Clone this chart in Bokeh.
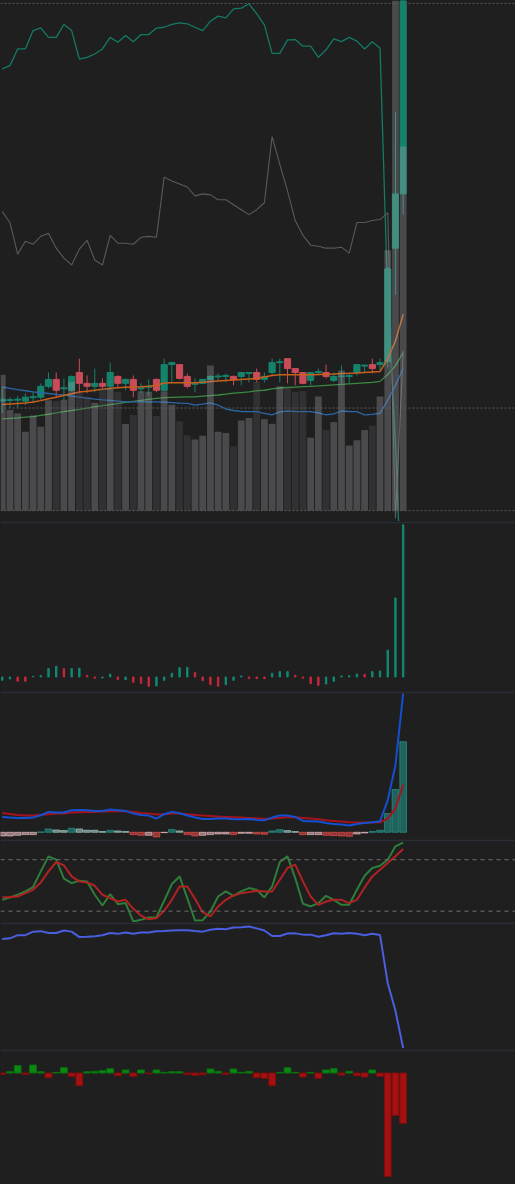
from bokeh.plotting import figure
from bokeh.models import ColumnDataSource, Range1d, Span
from bokeh.layouts import column
from bokeh.embed import file_html
from bokeh.resources import INLINE

# ---------------- data ----------------
bar_index = list(range(53))

open_ = [1.94,1.945,1.95,1.94,1.975,1.98,2.09,2.16,2.065,2.05, 2.23,2.12,2.09,2.12,2.09,2.19,2.12,2.16,2.065,2.08,
         2.16,2.05,2.31,2.31,2.19,2.11,2.12,2.16,2.185,2.19, 2.19,2.19,2.22,2.23,2.16,2.23,2.33,2.37,2.27,2.23,
         2.15,2.23,2.23,2.15,2.19,2.19,2.23,2.295,2.31,2.31, 2.34,3.49,4.04]
high = [2.08,1.98,1.99,2.02,2.03,2.12,2.23,2.23,2.17,2.20, 2.37,2.20,2.27,2.17,2.33,2.20,2.17,2.20,2.12,2.16,
        2.17,2.37,2.34,2.31,2.22,2.17,2.165,2.20,2.22,2.22, 2.20,2.23,2.23,2.27,2.23,2.37,2.37,2.37,2.27,2.23,
        2.235,2.27,2.31,2.23,2.30,2.22,2.31,2.31,2.37,2.37, 3.30,4.87,8.00]
low = [1.82,1.87,1.87,1.90,1.92,1.95,2.07,1.97,1.95,2.04, 2.02,2.02,2.03,2.07,2.05,2.08,2.05,1.98,2.02,2.00,
       2.03,2.045,2.12,2.16,2.07,2.03,2.12,2.15,2.15,2.13, 2.10,2.10,2.13,2.13,2.13,2.20,2.13,2.12,2.10,2.11,
       2.10,2.20,2.17,2.13,2.12,2.12,2.20,2.23,2.22,2.25, 2.28,3.02,3.83]
close = [1.96,1.955,1.96,1.98,1.985,2.09,2.16,2.05,2.075,2.19, 2.12,2.09,2.12,2.09,2.23,2.12,2.16,2.05,2.075,2.09,
         2.05,2.31,2.33,2.17,2.09,2.12,2.16,2.19,2.195,2.20, 2.16,2.23,2.23,2.16,2.19,2.33,2.34,2.27,2.23,2.12,
         2.23,2.24,2.19,2.19,2.195,2.20,2.31,2.305,2.27,2.33, 3.28,4.04,7.50]
volume_k = [1377,1020,987,800,963,850,1120,1110,1125,1303, 1200,1153,1093,1240,1237,1203,877,970,1210,1205,
            960,1210,1073,903,763,720,760,1470,800,787, 650,913,940,1303,927,880,1260,1250,1203,1210,
            740,1157,817,897,1420,660,713,817,860,1157, 2640,9000,3690]
ma_fast = [1.905,1.91,1.915,1.92,1.93,1.945,1.965,1.98,2.00,2.015, 2.033,2.04,2.05,2.06,2.07,2.075,2.08,2.083,2.085,2.09,
           2.10,2.123,2.125,2.125,2.125,2.125,2.13,2.14,2.145,2.15, 2.155,2.16,2.165,2.17,2.185,2.20,2.207,2.207,2.207,2.207,
           2.207,2.21,2.213,2.215,2.22,2.222,2.225,2.23,2.235,2.24, 2.37,2.55,2.82]
ma_slow = [1.76,1.765,1.77,1.777,1.783,1.795,1.807,1.82,1.833,1.845, 1.857,1.87,1.883,1.894,1.905,1.916,1.927,1.937,1.947,1.957,
           1.967,1.975,1.978,1.98,1.982,1.983,1.99,1.996,2.002,2.01, 2.02,2.027,2.034,2.045,2.05,2.065,2.073,2.078,2.082,2.086,
           2.09,2.094,2.10,2.105,2.11,2.115,2.12,2.125,2.13,2.14, 2.21,2.30,2.43]
ma_blue = [2.083,2.07,2.057,2.045,2.033,2.025,2.017,2.008,2.00,1.99, 1.98,1.97,1.96,1.953,1.947,1.94,1.933,1.933,1.933,1.933,
           1.933,1.93,1.925,1.92,1.917,1.90,1.91,1.923,1.90,1.86, 1.845,1.835,1.833,1.833,1.815,1.80,1.83,1.84,1.835,1.833,
           1.833,1.82,1.80,1.81,1.84,1.835,1.833,1.80,1.805,1.817, 1.95,2.10,2.27]
osc_line = [33.25,33.44,34.40,34.40,35.46,35.61,35.07,35.07,35.81,35.46, 33.82,33.92,34.11,34.40,35.07,34.79,35.17,34.82,35.23,35.23,
            35.60,35.65,35.81,35.90,35.85,35.65,35.46,36.00,36.29,36.19, 36.71,36.75,37.00,36.43,35.79,34.15,34.15,34.92,34.94,34.56,
            34.56,33.92,34.35,34.98,34.82,35.07,34.85,34.40,34.81,34.44, 20.0,11.7,0.5]
gray_line = [31.4,30.3,27.1,28.4,28.1,28.9,29.2,27.7,26.7,26.0, 27.6,28.5,26.5,26.0,29.0,28.2,28.2,28.1,28.8,28.9,
             28.8,34.9,34.5,34.2,33.9,33.0,33.2,33.1,32.6,32.6, 32.1,31.6,31.1,31.6,32.3,39.0,36.2,33.5,30.5,29.0,
             28.0,27.9,27.7,27.7,27.8,27.2,30.3,30.3,30.5,30.6, 31.3,0.3,17.3]
mom_vals = [-1.0,-0.6,-1.3,-1.3,0.2,0.4,2.5,3.2,2.5,2.5, 2.6,0.5,-0.4,-0.3,0.8,-0.8,-0.8,-1.6,-1.9,-2.8,
            -2.7,-1.0,1.1,2.8,2.9,1.3,-1.1,-2.3,-2.8,-2.3, -1.0,0.3,-0.5,-0.5,-0.5,1.1,1.6,1.6,0.5,-0.4,
            -2.0,-2.5,-2.1,-1.3,0.3,0.4,0.9,0.8,1.6,1.8, 8.0,23.6,45.5]
mom_up = [1,1,0,0,1,1,1,1,0,1, 1,0,0,1,1,0,1,0,0,0, 1,1,1,1,1,0,0,0,0,1, 1,1,0,0,0,1,1,1,0,0, 0,0,1,1,1,1,1,0,1,1, 1,1,1]
macd = [0.46,0.44,0.43,0.43,0.44,0.51,0.61,0.59,0.59,0.66, 0.67,0.66,0.64,0.64,0.68,0.66,0.64,0.56,0.52,0.50,
        0.41,0.54,0.61,0.57,0.50,0.44,0.40,0.40,0.41,0.41, 0.39,0.39,0.40,0.37,0.36,0.44,0.50,0.50,0.46,0.34,
        0.33,0.32,0.28,0.25,0.23,0.20,0.25,0.28,0.30,0.33, 0.96,2.01,4.16]
signal = [0.58,0.55,0.52,0.50,0.50,0.52,0.54,0.56,0.56,0.59, 0.60,0.61,0.61,0.62,0.63,0.64,0.63,0.61,0.58,0.56,
          0.53,0.54,0.56,0.56,0.54,0.52,0.50,0.49,0.47,0.46, 0.45,0.44,0.43,0.42,0.40,0.41,0.43,0.45,0.45,0.43,
          0.41,0.39,0.36,0.34,0.32,0.30,0.29,0.29,0.29,0.30, 0.41,0.71,1.43]
hist = [-0.11,-0.11,-0.09,-0.07,-0.07,0.01,0.10,0.07,0.05,0.12, 0.10,0.06,0.06,0.02,0.06,0.04,0.02,-0.07,-0.09,-0.09,
        -0.14,-0.01,0.08,0.04,-0.07,-0.11,-0.09,-0.07,-0.05,-0.05, -0.07,-0.03,-0.03,-0.05,-0.06,0.04,0.08,0.05,0.02,-0.07,
        -0.07,-0.07,-0.09,-0.10,-0.11,-0.12,-0.05,-0.02,0.02,0.06, 0.56,1.28,2.71]
stoch_k = [33.2,36.0,39.1,43.0,48.1,66.4,83.9,80.0,57.8,52.7, 55.5,54.7,39.1,26.6,39.9,28.2,29.4,7.9,9.9,12.6,
           13.0,32.1,51.6,60.5,35.2,9.1,9.5,19.6,37.1,43.0, 37.9,43.0,46.9,44.9,36.0,48.8,77.3,83.9,58.6,28.6,
           25.5,29.4,37.9,33.2,27.4,27.4,44.9,61.3,70.3,73.0, 80.0,95.6,100.0]
stoch_d = [36.0,36.4,37.1,41.0,44.9,53.5,66.4,77.3,73.4,60.5, 54.7,53.5,49.6,39.1,35.2,31.3,33.2,22.7,14.9,10.6,
           11.8,20.4,33.2,48.8,48.8,34.4,18.8,13.8,25.5,33.2, 38.3,41.0,42.2,43.8,43.0,43.0,56.6,70.3,74.2,54.7,
           37.1,27.4,31.3,33.2,33.2,29.4,33.2,47.7,60.5,68.3, 76.1,83.9,92.5]
flow = [-0.4,0.4,2.2,-0.4,2.4,0.4,-1.4,0.2,1.6,-1.0, -3.8,0.4,0.5,0.7,1.3,-0.8,0.9,-1.0,0.9,-0.2,
        0.9,0.2,0.4,0.4,-0.4,-0.7,-0.5,1.2,0.5,-0.4, 1.2,0.2,0.5,-1.4,-1.6,-3.8,0.2,1.6,0.2,-1.2,
        0.2,-1.6,0.9,1.3,-0.6,0.5,-0.8,-1.2,0.9,-1.0, -31.0,-12.7,-15.1]
stoch_levels = [80, 20]
price_level = 1.87

# ---------------- style ----------------
BG = "#1f1f1f"
SEP = "#2a2d36"
UP = "#15836b"
DOWN = "#c94c58"
W = 515
xr = Range1d(-0.226, 66.57)


def make_fig(h, yr, top):
    p = figure(width=W, height=h, x_range=xr, y_range=yr, output_backend="svg",
               toolbar_location=None, x_axis_location=None, y_axis_location=None,
               min_border_left=0, min_border_right=0, min_border_bottom=0, min_border_top=top,
               background_fill_color=BG, border_fill_color=SEP if top else BG,
               outline_line_color=None, styles={"background-color": BG})
    p.xgrid.visible = False
    p.ygrid.visible = False
    return p

# ---------------- main pane ----------------
main = make_fig(521, Range1d(0.72, 6.00), 0)
main.extra_y_ranges = {"vol": Range1d(-110, 5170), "ind": Range1d(7.2, 37.19), "aux": Range1d(0, 52.8)}

is_up = [c >= o for o, c in zip(open_, close)]
csrc = ColumnDataSource(dict(
    x=bar_index, high=high, low=low,
    top=[max(o, c) for o, c in zip(open_, close)],
    bottom=[min(o, c) for o, c in zip(open_, close)],
    color=[UP if u else DOWN for u in is_up],
    vol=volume_k,
    vcolor=["#a5a5ad" if u else "#57575e" for u in is_up],
    fast=ma_fast, slow=ma_slow, blue=ma_blue, osc=osc_line, gray=gray_line,
))

main.line("x", "osc", source=csrc, y_range_name="ind", line_color="#137a66", line_width=1.3)
main.line("x", "gray", source=csrc, y_range_name="aux", line_color="#5a5a5a", line_width=1.1)
main.segment("x", "high", "x", "low", source=csrc, line_color="color", line_width=1)
main.vbar(x="x", width=0.8, top="top", bottom="bottom", source=csrc, fill_color="color", line_color="color")
main.line("x", "slow", source=csrc, line_color="#3a8a42", line_width=1.3)
main.line("x", "blue", source=csrc, line_color="#2a67a8", line_width=1.3)
main.line("x", "fast", source=csrc, line_color="#c8601c", line_width=1.5)
main.vbar(x="x", width=0.88, top="vol", bottom=0, source=csrc, y_range_name="vol",
          fill_color="vcolor", fill_alpha=0.32, line_color=None)
for loc, rng in [(0, "vol"), (5140, "vol"), (price_level, "default")]:
    main.add_layout(Span(location=loc, dimension="width", y_range_name=rng,
                         line_color="#5c5c5c", line_dash="2 2", line_width=1))

# ---------------- pane 2 ----------------
p2 = make_fig(170, Range1d(-4.34, 45.85), 2)
p2.vbar(x=bar_index, width=0.18, top=mom_vals, bottom=0,
        color=["#108a74" if u else "#c8283a" for u in mom_up])

# ---------------- pane 3 (MACD) ----------------
p3 = make_fig(148, Range1d(-0.216, 4.154), 2)
hcol = []
for i, h in enumerate(hist):
    prev = hist[i - 1] if i > 0 else h
    if h >= 0:
        hcol.append("#26a69a" if h > prev else "#b2dfdb")
    else:
        hcol.append("#ff5252" if h < prev else "#ffcdd2")
p3.vbar(x=bar_index, width=0.86, top=hist, bottom=0, fill_color=hcol, fill_alpha=0.5,
        line_color=hcol, line_alpha=0.6)
p3.line(bar_index, signal, line_color="#a5141e", line_width=2)
p3.line(bar_index, macd, line_color="#1450d2", line_width=2)

# ---------------- pane 4 (stochastic) ----------------
p4 = make_fig(83, Range1d(6.8, 101.2), 2)
for lv in stoch_levels:
    p4.add_layout(Span(location=lv, dimension="width", line_color="#707070",
                       line_dash="4 4", line_width=1))
p4.line(bar_index, stoch_k, line_color="#2e7d3a", line_width=2)
p4.line(bar_index, stoch_d, line_color="#b22222", line_width=2)

# ---------------- pane 5 ----------------
p5 = make_fig(127, Range1d(0.1, 37.6), 2)
p5.line(bar_index, osc_line, line_color="#4a5ee0", line_width=2)

# ---------------- pane 6 ----------------
p6 = make_fig(135, Range1d(-33.4, 6.45), 2)
p6.vbar(x=bar_index, width=0.88, top=flow, bottom=0,
        fill_color=["#0b8a12" if v >= 0 else "#a31111" for v in flow],
        line_color=["#0a6e10" if v >= 0 else "#7e0e0e" for v in flow])

layout = column(main, p2, p3, p4, p5, p6, spacing=0, styles={"background-color": SEP})
open("out.html", "w").write(file_html(layout, INLINE))
